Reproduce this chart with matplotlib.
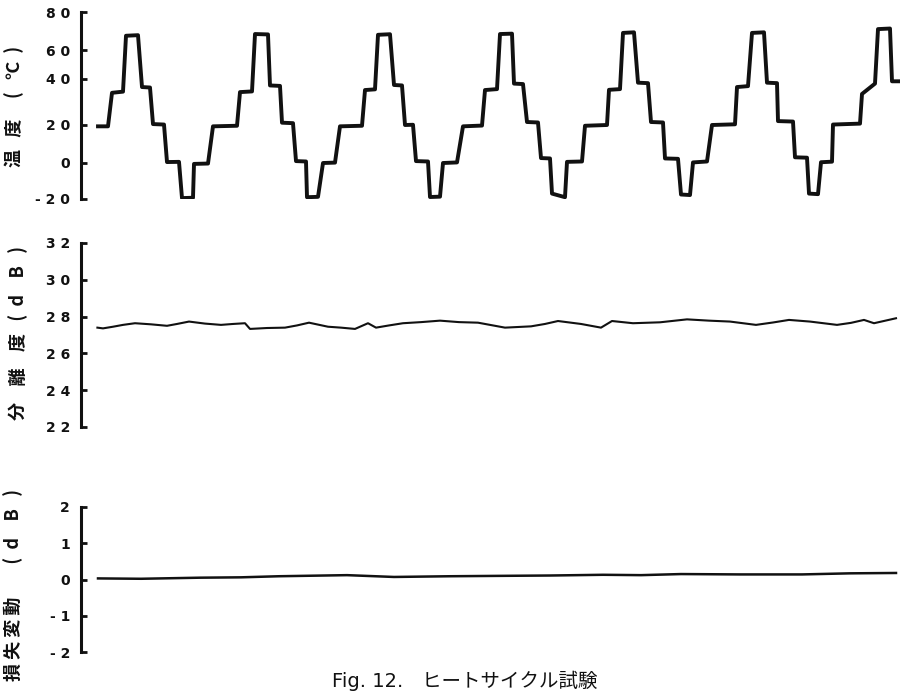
import numpy as np
import matplotlib
matplotlib.use("Agg")
import matplotlib.pyplot as plt

# ---- data -------------------------------------------------------------
# Chamber temperature profile: corner points of the step cycle (time in min, degC)
temp_time = [85, 135, 155, 210, 225, 285, 305, 345, 360, 415, 430, 490, 505, 560, 565, 635,
             660, 780, 795, 855, 870, 935, 945, 995, 1005, 1060, 1075, 1125, 1130, 1185, 1210, 1270,
             1295, 1405, 1420, 1470, 1485, 1545, 1565, 1605, 1620, 1660, 1675, 1735, 1745, 1795, 1810, 1880,
             1910, 2005, 2020, 2080, 2095, 2155, 2165, 2210, 2230, 2285, 2300, 2345, 2355, 2420, 2430, 2505,
             2520, 2630, 2640, 2695, 2710, 2765, 2785, 2835, 2850, 2910, 2920, 2985, 3000, 3045, 3060, 3130,
             3155, 3270, 3280, 3335, 3355, 3415, 3430, 3480, 3485, 3560, 3570, 3630, 3640, 3685, 3700, 3755,
             3760, 3895, 3905, 3970, 3985, 4045, 4055, 4095]
temp_value = [19.3, 19.3, 34.0, 34.5, 67.5, 67.8, 36.5, 36.3, 20.4, 20.2, 0.5, 0.6, -19.5, -19.3, -0.5, -0.3,
              19.3, 19.6, 34.3, 34.6, 68.4, 68.2, 37.2, 37.0, 21.0, 20.8, 1.0, 0.8, -19.0, -18.8, 0.0, 0.2,
              19.3, 19.6, 35.2, 35.5, 68.0, 68.3, 37.4, 37.2, 20.0, 20.1, 1.0, 0.8, -18.9, -18.7, 0.0, 0.3,
              19.3, 19.7, 35.2, 35.6, 68.4, 68.6, 38.0, 37.8, 21.3, 21.1, 2.6, 2.4, -17.0, -19.0, 0.6, 0.8,
              19.6, 20.0, 35.3, 35.6, 69.0, 69.3, 38.4, 38.2, 21.3, 21.1, 2.4, 2.2, -17.5, -17.8, 0.3, 0.8,
              20.0, 20.3, 36.5, 36.9, 69.0, 69.3, 38.4, 38.2, 21.7, 21.5, 3.0, 2.8, -17.0, -17.3, 0.4, 0.7,
              20.2, 20.6, 33.5, 38.0, 71.0, 71.3, 39.0, 39.0]

# Isolation (dB)
iso_time = [82, 110, 160, 210, 270, 350, 430, 480, 540, 620, 700, 760, 820, 845, 930, 1020, 1080,
            1140, 1235, 1300, 1370, 1435, 1475, 1540, 1610, 1700, 1795, 1890, 1985, 2120, 2250,
            2320, 2385, 2500, 2600, 2655, 2760, 2895, 3030, 3140, 3245, 3375, 3460, 3540, 3645,
            3780, 3850, 3915, 3965, 4075]
iso_value = [27.40, 27.36, 27.45, 27.55, 27.64, 27.58, 27.50, 27.60, 27.73, 27.62, 27.55, 27.60,
             27.64, 27.33, 27.38, 27.40, 27.52, 27.67, 27.45, 27.40, 27.33, 27.64, 27.40, 27.52,
             27.64, 27.70, 27.78, 27.70, 27.67, 27.40, 27.47, 27.60, 27.76, 27.60, 27.40, 27.76,
             27.64, 27.69, 27.85, 27.78, 27.73, 27.55, 27.68, 27.82, 27.73, 27.55, 27.66, 27.82,
             27.64, 27.91]

# Insertion-loss variation (dB)
loss_time = [85, 300, 595, 800, 990, 1330, 1565, 1845, 2085, 2345, 2610, 2800, 3000, 3295, 3605, 3845, 4075]
loss_value = [0.03, 0.02, 0.05, 0.06, 0.09, 0.12, 0.07, 0.09, 0.10, 0.11, 0.13, 0.12, 0.15, 0.14,
              0.14, 0.17, 0.18]

temp_ticks = [-20, 0, 20, 40, 60, 80]
temp_labels = ["- 2 0", "0", "2 0", "4 0", "6 0", "8 0"]
iso_ticks = [22, 24, 26, 28, 30, 32]
iso_labels = ["2 2", "2 4", "2 6", "2 8", "3 0", "3 2"]
loss_ticks = [-2, -1, 0, 1, 2]
loss_labels = ["- 2", "- 1", "0", "1", "2"]

# printed positions of the temperature grid lines (the hand-drawn axis is uneven)
temp_axis_pos = [-199, -163, -125, -79, -50, -12]

# ---- figure -----------------------------------------------------------
W, H = 900, 694
fig = plt.figure(figsize=(W / 100, H / 100), dpi=100)
jp = ["Noto Sans CJK JP", "DejaVu Sans"]
ink = "#111111"


def add_panel(x0, y0, x1, y1):
    ax = fig.add_axes([x0 / W, 1 - y1 / H, (x1 - x0) / W, (y1 - y0) / H])
    for s in ("top", "right", "bottom"):
        ax.spines[s].set_visible(False)
    ax.spines["left"].set_linewidth(2.2)
    ax.spines["left"].set_color(ink)
    ax.set_xticks([])
    ax.tick_params(axis="y", direction="in", length=4, width=2, pad=8,
                   labelsize=10, colors=ink)
    ax.set_xlim(0, 4095)
    ax.patch.set_alpha(0)
    return ax


ax1 = add_panel(81, 12, 900, 199)
ax1.set_yscale("function",
               functions=(lambda v: np.interp(v, temp_ticks, temp_axis_pos),
                          lambda p: np.interp(p, temp_axis_pos, temp_ticks)))
ax1.plot(temp_time, temp_value, color=ink, lw=2.8, solid_joinstyle="round")
ax1.set_ylim(-20, 80)
ax1.set_yticks(temp_ticks, labels=temp_labels)
ax1.yaxis.set_minor_locator(matplotlib.ticker.NullLocator())

ax2 = add_panel(81, 243, 900, 427)
ax2.plot(iso_time, iso_value, color=ink, lw=1.5)
ax2.set_ylim(22, 32)
ax2.set_yticks(iso_ticks, labels=iso_labels)

ax3 = add_panel(81, 507, 900, 652)
ax3.plot(loss_time, loss_value, color=ink, lw=1.8)
ax3.set_ylim(-2, 2)
ax3.set_yticks(loss_ticks, labels=loss_labels)

for ax in (ax1, ax2, ax3):
    for lab in ax.get_yticklabels():
        lab.set_fontweight("bold")

# vertical axis titles
fig.text(14 / W, 1 - 106 / H, "温   度     (   ℃  )", rotation=90, ha="center", va="center",
         fontsize=13, fontweight="bold", family=jp, color=ink)
fig.text(18 / W, 1 - 333 / H, "分    離    度   (  d    B   )", rotation=90, ha="center",
         va="center", fontsize=13, fontweight="bold", family=jp, color=ink)
fig.text(13 / W, 1 - 585 / H, "損 失 変 動        (  d    B   )", rotation=90, ha="center",
         va="center", fontsize=13, fontweight="bold", family=jp, color=ink)

fig.text(465 / W, 1 - 681 / H, "Fig. 12.   ヒートサイクル試験", ha="center", va="center",
         fontsize=14, family=["DejaVu Sans", "Noto Sans CJK JP"], color=ink)

fig.savefig("out.png", dpi=100)
